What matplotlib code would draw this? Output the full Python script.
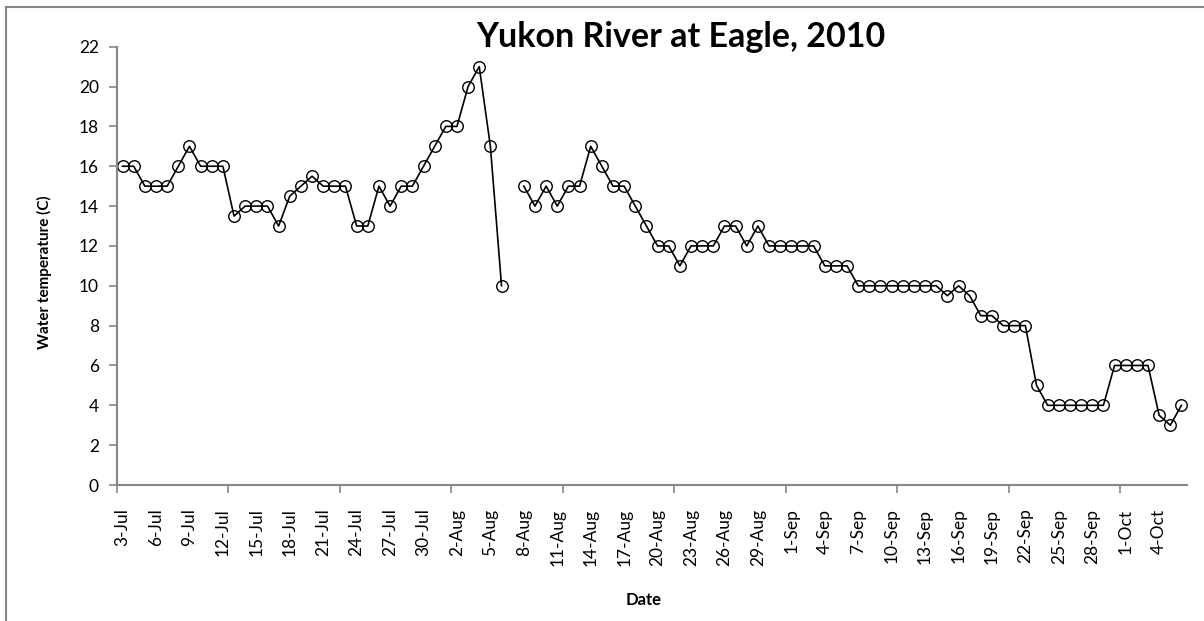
import numpy as np
import pandas as pd
import matplotlib
matplotlib.use('Agg')
import matplotlib.pyplot as plt
from matplotlib.lines import Line2D

# daily water temperature, Yukon River at Eagle, from 3-Jul-2010 (7-Aug missing)
start_date = '2010-07-03'
temps = [16, 16, 15, 15, 15, 16, 17, 16, 16, 16,
         13.5, 14, 14, 14, 13, 14.5, 15, 15.5, 15, 15,
         15, 13, 13, 15, 14, 15, 15, 16, 17, 18,
         18, 20, 21, 17, 10, np.nan, 15, 14, 15, 14,
         15, 15, 17, 16, 15, 15, 14, 13, 12, 12,
         11, 12, 12, 12, 13, 13, 12, 13, 12, 12,
         12, 12, 12, 11, 11, 11, 10, 10, 10, 10,
         10, 10, 10, 10, 9.5, 10, 9.5, 8.5, 8.5, 8,
         8, 8, 5, 4, 4, 4, 4, 4, 4, 6,
         6, 6, 6, 3.5, 3, 4]

title = 'Yukon River at Eagle, 2010'
y_label = 'Water temperature (C)'
x_label = 'Date'

plt.rcParams['font.family'] = ['Lato', 'DejaVu Sans']

dates = pd.date_range(start_date, periods=len(temps), freq='D')
x = np.arange(len(temps))
labels = [f'{d.day}-{d.strftime("%b")}' for d in dates]

fig = plt.figure(figsize=(12.04, 6.21), dpi=100)
ax = fig.add_axes([117 / 1204, 136 / 621, 1070 / 1204, 438.3 / 621])

ax.plot(x, temps, color='black', lw=1.2, marker='o', markersize=8.3,
        markerfacecolor='none', markeredgecolor='black', markeredgewidth=1.0)

ax.set_xlim(-0.5, len(temps) - 0.5)
ax.set_ylim(0, 22)
ax.set_yticks(np.arange(0, 23, 2))

# labels every 3 days, tick marks every 10 days on the slot edges
ax.set_xticks(x[::3])
ax.set_xticklabels(labels[::3], rotation=90)
ax.set_xticks(np.arange(-0.5, len(temps), 10), minor=True)
ax.tick_params(axis='x', which='major', length=0, pad=17, labelsize=12.5)
ax.tick_params(axis='x', which='minor', length=6, width=1.2, color='#868686')
ax.tick_params(axis='y', length=6, width=1.2, color='#868686', labelsize=12.5, pad=7)

for side in ['top', 'right']:
    ax.spines[side].set_visible(False)
for side in ['left', 'bottom']:
    ax.spines[side].set_color('#868686')
    ax.spines[side].set_linewidth(1.5)

fig.text(681 / 1204, 1 - 47 / 621, title, ha='center', va='baseline',
         fontsize=24.5, fontweight='bold')
fig.text(44 / 1204, 1 - 272 / 621, y_label, ha='center', va='center',
         rotation=90, fontsize=11, fontweight='bold')
fig.text(644 / 1204, 1 - 600 / 621, x_label, ha='center', va='center',
         fontsize=12, fontweight='bold')

# chart-area frame: only the left and top edges are inside the picture
fig.add_artist(Line2D([5.5 / 1204, 5.5 / 1204], [0, 1 - 6.5 / 621],
                      transform=fig.transFigure, color='#868686', lw=1.5))
fig.add_artist(Line2D([5.5 / 1204, 1], [1 - 6.5 / 621, 1 - 6.5 / 621],
                      transform=fig.transFigure, color='#868686', lw=1.5))

fig.savefig('out.png', dpi=100)
